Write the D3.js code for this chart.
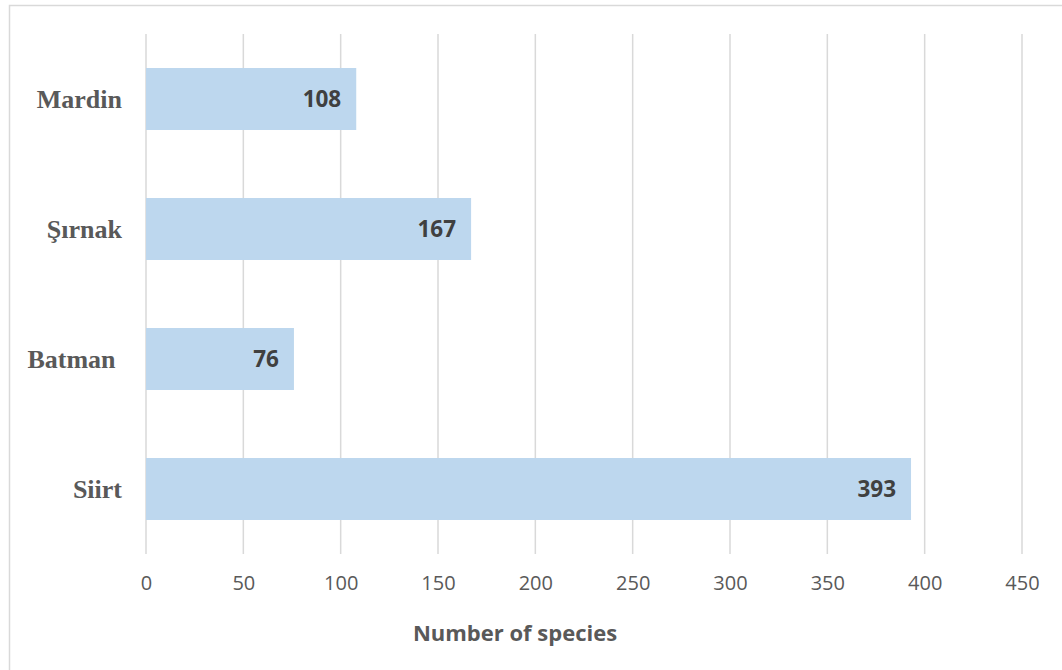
<!DOCTYPE html>
<html>
<head>
<meta charset="utf-8">
<script src="https://cdn.jsdelivr.net/npm/d3@7"></script>
<style>
  body { margin: 0; background: #fff; }
</style>
</head>
<body>
<div id="chart-container"></div>
<script>
// Data
const provinces = ["Mardin", "Şırnak", "Batman\u00A0", "Siirt"];
const speciesCount = [108, 167, 76, 393];
const xTicks = [0, 50, 100, 150, 200, 250, 300, 350, 400, 450];

const W = 1062, H = 670;
const margin = { top: 34, right: 40, bottom: 116, left: 146 };

const svg = d3.select("#chart-container")
  .append("svg")
  .attr("width", W)
  .attr("height", H);

// outer chart border
svg.append("rect")
  .attr("x", 9.5)
  .attr("y", 5.5)
  .attr("width", W + 20)
  .attr("height", H + 20)
  .attr("fill", "none")
  .attr("stroke", "#d9d9d9")
  .attr("stroke-width", 1.5);

const x = d3.scaleLinear().domain([0, 450]).range([margin.left, 1022]);
const y = d3.scaleBand()
  .domain(provinces)
  .range([margin.top, H - margin.bottom])
  .paddingInner(0.523)
  .paddingOuter(0.2615);

// Gridlines
svg.append("g")
  .selectAll("line")
  .data(xTicks)
  .join("line")
  .attr("x1", d => x(d))
  .attr("x2", d => x(d))
  .attr("y1", margin.top)
  .attr("y2", H - margin.bottom)
  .attr("stroke", "#d9d9d9")
  .attr("stroke-width", 1.5);

// Bars
svg.append("g")
  .selectAll("rect")
  .data(provinces)
  .join("rect")
  .attr("x", x(0))
  .attr("y", d => y(d))
  .attr("width", (d, i) => x(speciesCount[i]) - x(0))
  .attr("height", y.bandwidth())
  .attr("fill", "#bdd7ee");

// Value labels inside bars
svg.append("g")
  .selectAll("text")
  .data(provinces)
  .join("text")
  .attr("x", (d, i) => x(speciesCount[i]) - 15)
  .attr("y", d => y(d) + y.bandwidth() / 2)
  .attr("dy", "0.36em")
  .attr("text-anchor", "end")
  .style("font-family", "'Open Sans', sans-serif")
  .style("font-weight", "bold")
  .style("font-size", "22.5px")
  .style("fill", "#404040")
  .text((d, i) => speciesCount[i]);

// Category labels
svg.append("g")
  .selectAll("text")
  .data(provinces)
  .join("text")
  .attr("x", 122)
  .attr("y", d => y(d) + y.bandwidth() / 2)
  .attr("dy", "0.33em")
  .attr("text-anchor", "end")
  .style("font-family", "'Liberation Serif', 'Times New Roman', serif")
  .style("font-weight", "bold")
  .style("font-size", "26px")
  .style("fill", "#595959")
  .style("white-space", "pre")
  .text(d => d);

// X axis tick labels
const xAxis = svg.append("g")
  .attr("transform", `translate(0,${H - margin.bottom})`)
  .call(d3.axisBottom(x).tickValues(xTicks).tickSize(0).tickPadding(22));
xAxis.select(".domain").remove();
xAxis.selectAll("text")
  .style("font-family", "'Open Sans', sans-serif")
  .style("font-size", "20px")
  .style("fill", "#595959");

// Axis title
svg.append("text")
  .attr("x", 515)
  .attr("y", 641)
  .attr("text-anchor", "middle")
  .style("font-family", "'Open Sans', sans-serif")
  .style("font-weight", "bold")
  .style("font-size", "22px")
  .style("fill", "#595959")
  .text("Number of species");
</script>
</body>
</html>
